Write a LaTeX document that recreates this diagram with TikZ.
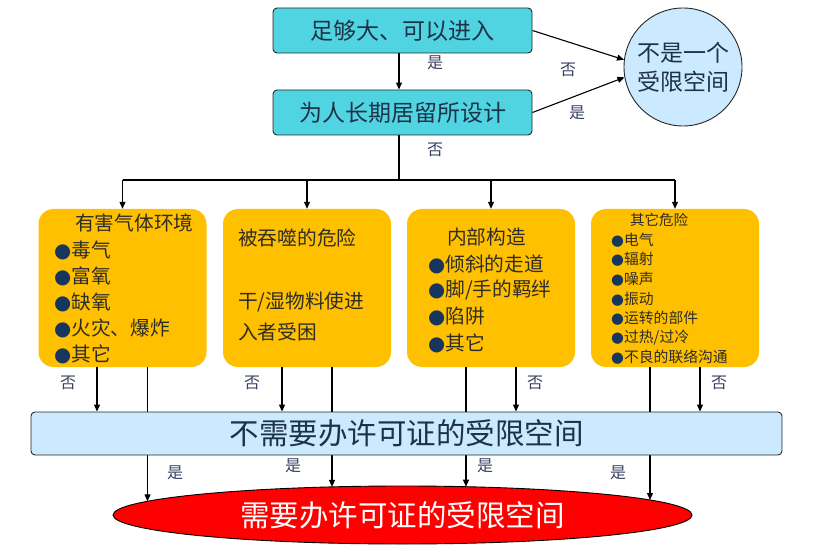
\documentclass[tikz,border=0pt]{standalone}
\usepackage{fontspec}
\newfontfamily\cjk{Noto Sans CJK SC}
\newfontfamily\dejavu{DejaVu Sans}
\usetikzlibrary{arrows.meta,shapes.geometric,calc}
\definecolor{cyanbox}{RGB}{80,212,226}
\definecolor{orangebox}{RGB}{255,192,0}
\definecolor{lightbluebox}{RGB}{204,234,255}
\definecolor{redbox}{RGB}{255,0,0}
\definecolor{topText}{RGB}{30,50,70}
\definecolor{hazText}{RGB}{45,45,40}
\definecolor{bulletc}{RGB}{23,54,93}
\definecolor{lblText}{RGB}{55,65,95}
\newcommand\mybullet{{\dejavu\color{bulletc}●}}
\begin{document}
\begin{tikzpicture}[x=1pt,y=1pt,
  topbox/.style={draw=black!85, line width=0.9pt, fill=cyanbox, rounded corners=4pt,
    minimum width=259pt, minimum height=45pt, inner sep=0, text=topText,
    font=\cjk\fontsize{23}{28}\selectfont},
  hazbox/.style={fill=orangebox, rounded corners=15pt, minimum width=168pt,
    minimum height=158pt, inner sep=0},
  lbl/.style={font=\cjk\fontsize{16}{18}\selectfont, text=lblText, inner sep=0},
  conn/.style={line width=1.1pt, black},
  arr/.style={conn, -{Triangle[length=7pt,width=6pt]}},
  haztxt/.style={anchor=west, inner sep=0, text=hazText, font=\cjk\fontsize{19.7}{24}\selectfont},
  smalltxt/.style={anchor=west, inner sep=0, text=hazText, font=\cjk\fontsize{14.8}{18}\selectfont},
]
\useasboundingbox (0,0) rectangle (821,555);

% top boxes
\node[topbox] (t1) at (402.5,524.5) {足够大、可以进入};
\node[topbox] (t2) at (402.5,442.5) {为人长期居留所设计};
\node[circle, draw=black!85, line width=0.9pt, fill=lightbluebox, minimum size=118pt,
  inner sep=0, align=center, text=topText, font=\cjk\fontsize{23}{29}\selectfont]
  (circ) at (683,488) {不是一个\\受限空间};

\coordinate (t1s) at ([xshift=-3.5pt]t1.south);
\coordinate (t2s) at ([xshift=-3.5pt]t2.south);
\draw[arr] (t1s) -- (t1s |- t2.north);
\draw[arr] (t1.east) -- (circ.173);
\draw[arr] (t2.east) -- (circ.190);
\node[lbl] (l1) at (435,492) {是};
\node[lbl] (l2) at (568,485) {否};
\node[lbl] (l3) at (577,442) {是};
\node[lbl] (l4) at (435,405) {否};

% hazard boxes
\node[hazbox] (A) at (122.5,267) {};
\node[hazbox] (B) at (307,267) {};
\node[hazbox] (C) at (491,267) {};
\node[hazbox] (D) at (675,267) {};

\coordinate (split) at (t2s |- 0,375);
\draw[conn] (t2s) -- (split);
\draw[conn] (A.north |- split) -- (D.north |- split);
\foreach \n in {A,B,C,D} \draw[arr] (\n.north |- split) -- (\n.north);

% texts in hazard boxes
\node[haztxt] (ah) at (75,332) {有害气体环境};
\foreach \t [count=\i] in {毒气,富氧,缺氧,火灾、爆炸,其它}
  \node[haztxt, name=a\i] at (54,331-26*\i) {\mybullet\t};

\node[haztxt] (b1) at (238,317) {被吞噬的危险};
\node[haztxt] (b2) at (238,253) {干/湿物料使进};
\node[haztxt] (b3) at (238,223) {入者受困};

\node[haztxt] (ch) at (447,318) {内部构造};
\foreach \t [count=\i] in {倾斜的走道,脚/手的羁绊,陷阱,其它}
  \node[haztxt, name=c\i] at (428,317.3-26.3*\i) {\mybullet\t};

\node[smalltxt, font=\cjk\fontsize{14.5}{18}\selectfont] (dh) at (630,335) {其它危险};
\foreach \t [count=\i] in {电气,辐射,噪声,振动,运转的部件,过热/过冷,不良的联络沟通}
  \node[smalltxt, name=d\i] at (611,334.7-19.6*\i) {\mybullet\t};

% permit-required ellipse
\node[ellipse, draw=black, line width=0.9pt, fill=redbox, minimum width=579pt,
  minimum height=58pt, inner sep=0, text=white, font=\cjk\fontsize{29.5}{32}\selectfont]
  (ell) at (402.5,40) {需要办许可证的受限空间};

% points where the yes lines meet the ellipse
\coordinate (eA) at (147.5,53.7);
\coordinate (eB) at (332,68.1);
\coordinate (eC) at (466,68.3);
\coordinate (eD) at (650,55.0);

% yes lines (behind the light-blue box)
\draw[arr] (eA |- A.south) -- (eA);
\draw[arr] (eB |- B.south) -- (eB);
\draw[arr] (eC |- C.south) -- (eC);
\draw[arr] (eD |- D.south) -- (eD);

% non-permit box
\node[draw=black!85, line width=0.9pt, fill=lightbluebox, rounded corners=4pt,
  minimum width=751pt, minimum height=43pt, inner sep=0, text=topText,
  font=\cjk\fontsize{29.5}{32}\selectfont] (blue) at (406.5,121.5) {不需要办许可证的受限空间};

% no arrows
\coordinate (aN) at ([xshift=-25.5pt]A.south);
\coordinate (bN) at ([xshift=-25pt]B.south);
\coordinate (cN) at ([xshift=25pt]C.south);
\coordinate (dN) at ([xshift=25pt]D.south);
\foreach \p in {aN,bN,cN,dN} \draw[arr] (\p) -- (\p |- blue.north);

\node[lbl] (n1) at (68,172) {否};
\node[lbl] (n2) at (252,172) {否};
\node[lbl] (n3) at (535,172) {否};
\node[lbl] (n4) at (719,172) {否};
\node[lbl] (y1) at (175,82) {是};
\node[lbl] (y2) at (293,89) {是};
\node[lbl] (y3) at (485,89) {是};
\node[lbl] (y4) at (618,82) {是};
\end{tikzpicture}
\end{document}
